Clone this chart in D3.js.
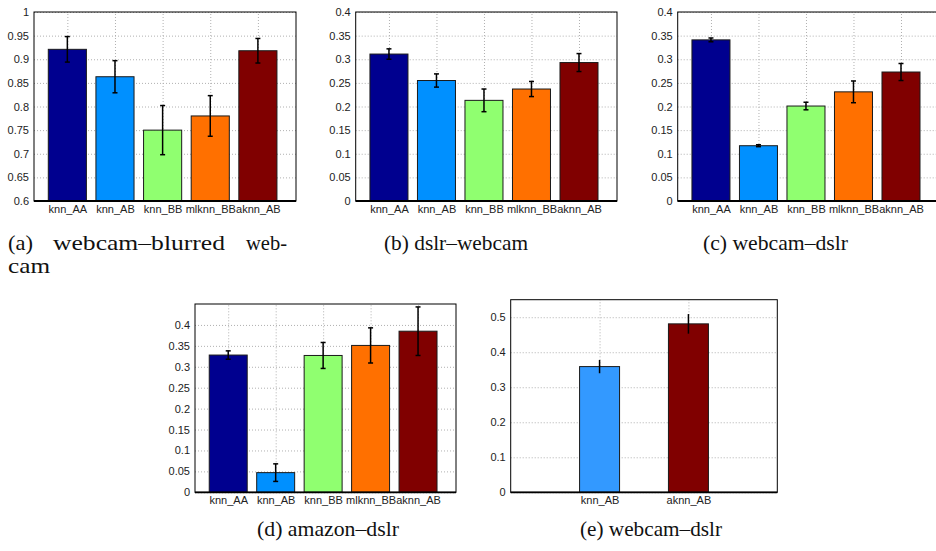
<!DOCTYPE html>
<html>
<head>
<meta charset="utf-8">
<script src="https://cdn.jsdelivr.net/npm/d3@7"></script>
<style>
  body { margin: 0; background: #fff; }
  svg { display: block; font-family: "Liberation Sans", Arial, sans-serif; }
</style>
</head>
<body>
<svg id="fig" width="936" height="551"></svg>
<script>
// categories
const methods = ["knn_AA", "knn_AB", "knn_BB", "mlknn_BB", "aknn_AB"];
const methodsE = ["knn_AB", "aknn_AB"];

// tick labels
const ticksA = [0.6, 0.65, 0.7, 0.75, 0.8, 0.85, 0.9, 0.95, 1];
const ticks04 = [0, 0.05, 0.1, 0.15, 0.2, 0.25, 0.3, 0.35, 0.4];
const ticksE = [0, 0.1, 0.2, 0.3, 0.4, 0.5];

// series values (mean accuracy and +/- error)
const meanA = [0.921, 0.863, 0.75, 0.78, 0.918];
const errA = [0.027, 0.034, 0.052, 0.043, 0.026];
const meanB = [0.311, 0.255, 0.213, 0.237, 0.293];
const errB = [0.011, 0.014, 0.024, 0.016, 0.019];
const meanC = [0.341, 0.117, 0.201, 0.231, 0.273];
const errC = [0.004, 0.002, 0.008, 0.023, 0.018];
const meanD = [0.328, 0.047, 0.327, 0.351, 0.385];
const errD = [0.01, 0.021, 0.031, 0.042, 0.058];
const meanE = [0.359, 0.481];
const errE = [0.019, 0.028];

const colors = {
  knn_AA: "#00008f",
  knn_AB: "#0090ff",
  knn_BB: "#90ff70",
  mlknn_BB: "#ff7000",
  aknn_AB: "#800000",
};

const svg = d3.select("#fig");

function drawPanel(cfg) {
  const w = cfg.width;
  const h = cfg.height;
  const g = svg.append("g").attr("transform", `translate(${cfg.left},${cfg.top})`);

  const pos = cfg.cats.map((c, i) => i + 1);
  const x = d3.scaleLinear().domain(cfg.xDomain).range([0, w]);
  const y = d3.scaleLinear().domain(cfg.yDomain).range([h, 0]);

  // dotted grid lines behind the bars
  const gy = g.append("g")
    .call(d3.axisLeft(y).tickValues(cfg.ticks).tickSize(-w).tickFormat(""));
  const gx = g.append("g")
    .attr("transform", `translate(0,${h})`)
    .call(d3.axisBottom(x).tickValues(pos).tickSize(-h).tickFormat(""));
  [gy, gx].forEach((a) => {
    a.select(".domain").remove();
    a.selectAll("line")
      .attr("stroke", "#b0b0b0")
      .attr("stroke-dasharray", "1,2");
  });

  const bw = x(cfg.barWidth) - x(0);

  g.selectAll(".bar")
    .data(cfg.cats)
    .enter()
    .append("rect")
    .attr("class", "bar")
    .attr("x", (d, i) => x(i + 1) - bw / 2)
    .attr("y", (d, i) => y(cfg.mean[i]))
    .attr("width", bw)
    .attr("height", (d, i) => y(cfg.yDomain[0]) - y(cfg.mean[i]))
    .attr("fill", (d) => (cfg.colorOverride && cfg.colorOverride[d]) || colors[d])
    .attr("stroke", "#1a1a1a")
    .attr("stroke-width", 1);

  // error bars
  const eb = g.selectAll(".err")
    .data(cfg.cats)
    .enter()
    .append("g")
    .attr("class", "err")
    .attr("stroke", "#000")
    .attr("stroke-width", 1.5);

  eb.append("line")
    .attr("x1", (d, i) => x(i + 1))
    .attr("x2", (d, i) => x(i + 1))
    .attr("y1", (d, i) => y(cfg.mean[i] - cfg.err[i]))
    .attr("y2", (d, i) => y(cfg.mean[i] + cfg.err[i]));

  if (cfg.caps) {
    [-1, 1].forEach((s) => {
      eb.append("line")
        .attr("x1", (d, i) => x(i + 1) - 2.5)
        .attr("x2", (d, i) => x(i + 1) + 2.5)
        .attr("y1", (d, i) => y(cfg.mean[i] + s * cfg.err[i]))
        .attr("y2", (d, i) => y(cfg.mean[i] + s * cfg.err[i]));
    });
  }

  // axes box
  g.append("rect")
    .attr("width", w)
    .attr("height", h)
    .attr("fill", "none")
    .attr("stroke", "#000")
    .attr("stroke-width", 1);
  g.append("line")
    .attr("x1", 0)
    .attr("x2", w)
    .attr("y1", h)
    .attr("y2", h)
    .attr("stroke", "#000")
    .attr("stroke-width", 1.8);

  // tick labels
  const ly = g.append("g")
    .call(d3.axisLeft(y).tickValues(cfg.ticks).tickSize(0).tickPadding(5)
      .tickFormat((d) => String(+d.toFixed(2))));
  const lx = g.append("g")
    .attr("transform", `translate(0,${h})`)
    .call(d3.axisBottom(x).tickValues(pos).tickSize(0).tickPadding(4)
      .tickFormat((d, i) => cfg.cats[i]));
  [ly, lx].forEach((a) => {
    a.select(".domain").remove();
    a.selectAll("text")
      .attr("fill", "#222")
      .style("font-size", "11px")
      .style("font-family", '"Liberation Sans", Arial, sans-serif');
  });
}

drawPanel({ left: 34, top: 12, width: 262, height: 189, cats: methods,
  mean: meanA, err: errA, ticks: ticksA, yDomain: [0.6, 1], xDomain: [0.3, 5.8],
  barWidth: 0.8, caps: true });
drawPanel({ left: 355.7, top: 12, width: 261.3, height: 189, cats: methods,
  mean: meanB, err: errB, ticks: ticks04, yDomain: [0, 0.4], xDomain: [0.3, 5.8],
  barWidth: 0.8, caps: true });
drawPanel({ left: 677.7, top: 12, width: 261.3, height: 189, cats: methods,
  mean: meanC, err: errC, ticks: ticks04, yDomain: [0, 0.4], xDomain: [0.3, 5.8],
  barWidth: 0.8, caps: true });
drawPanel({ left: 195, top: 304, width: 261, height: 188.3, cats: methods,
  mean: meanD, err: errD, ticks: ticks04, yDomain: [0, 0.45], xDomain: [0.3, 5.8],
  barWidth: 0.8, caps: true });
drawPanel({ left: 510.7, top: 299.7, width: 266.6, height: 192.6, cats: methodsE,
  mean: meanE, err: errE, ticks: ticksE, yDomain: [0, 0.55], xDomain: [0, 3],
  barWidth: 0.45, caps: false, colorOverride: { knn_AB: "#3399ff" } });

// sub-figure captions (x = left edge, len = rendered width)
const captions = [
  { text: "(a)", x: 8, y: 250, len: 25 },
  { text: "webcam–blurred", x: 53, y: 250, len: 172 },
  { text: "web-", x: 246, y: 250, len: 41 },
  { text: "cam", x: 8, y: 273, len: 42 },
  { text: "(b) dslr–webcam", x: 384, y: 250, len: 144 },
  { text: "(c) webcam–dslr", x: 703, y: 250, len: 145 },
  { text: "(d) amazon–dslr", x: 257, y: 536, len: 142 },
  { text: "(e) webcam–dslr", x: 580, y: 536, len: 142 },
];

svg.selectAll(".caption")
  .data(captions)
  .enter()
  .append("text")
  .attr("class", "caption")
  .attr("x", (d) => d.x)
  .attr("y", (d) => d.y)
  .attr("textLength", (d) => d.len)
  .attr("lengthAdjust", "spacingAndGlyphs")
  .style("font-family", '"Liberation Serif", "Times New Roman", serif')
  .style("font-size", "21px")
  .attr("fill", "#111")
  .text((d) => d.text);
</script>
</body>
</html>
